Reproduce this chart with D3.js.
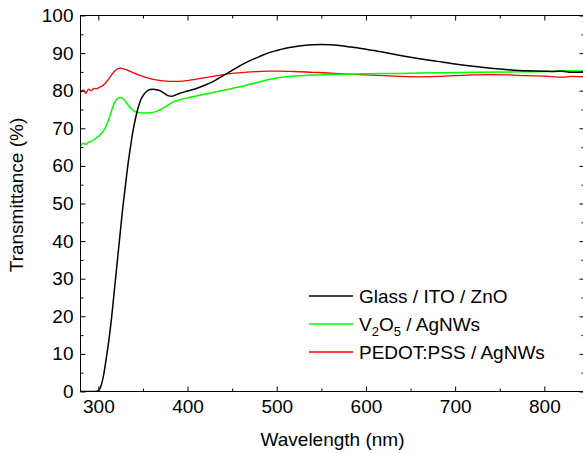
<!DOCTYPE html>
<html>
<head>
<meta charset="utf-8">
<script src="https://cdn.jsdelivr.net/npm/d3@7"></script>
<style>
	body { margin: 0; background: #fff; }
	svg { display: block; font-family: "Liberation Sans", Arial, sans-serif; }
</style>
</head>
<body>
<div id="chart"></div>
<script>
// Glass / ITO / ZnO
const glassWl = [280, 290, 296, 300, 303, 306, 309, 312, 315, 318, 321, 324, 327, 330, 333, 336, 339, 342, 345, 348, 351, 354, 358, 362, 366, 370, 374, 378, 382, 386, 390, 400, 410, 420, 430, 440, 450, 460, 470, 480, 490, 500, 510, 520, 530, 540, 550, 560, 570, 580, 590, 600, 620, 640, 660, 680, 700, 720, 740, 760, 780, 800, 810, 820, 830, 845];
const glassT = [0, 0, 0, 0.2, 1.5, 4.5, 9, 14, 20, 27, 34, 41, 48, 54, 60, 65, 69.5, 73, 75.8, 77.8, 79, 79.8, 80.3, 80.4, 80.2, 79.9, 79.3, 78.7, 78.5, 78.8, 79.2, 79.9, 80.6, 81.5, 82.6, 84, 85.4, 86.8, 88, 89, 90, 90.7, 91.3, 91.7, 92, 92.2, 92.3, 92.2, 92, 91.7, 91.4, 91, 90.2, 89.3, 88.5, 87.8, 87.1, 86.5, 86, 85.6, 85.3, 85.2, 85.1, 85.2, 84.9, 85];

// V2O5 / AgNWs
const vWl = [280, 283, 286, 289, 292, 295, 298, 301, 304, 307, 310, 313, 316, 319, 322, 325, 328, 331, 334, 337, 340, 345, 350, 355, 360, 365, 370, 375, 380, 385, 390, 400, 410, 420, 430, 440, 450, 460, 470, 480, 490, 500, 520, 540, 560, 580, 600, 640, 680, 720, 760, 800, 820, 845];
const vT = [65.3, 66, 65.7, 66.3, 66.5, 67, 67.5, 68, 68.8, 69.8, 71.3, 73.3, 75.5, 77.2, 78, 78.2, 77.8, 77, 76, 75.2, 74.6, 74.2, 74.1, 74.1, 74.2, 74.5, 75, 75.7, 76.5, 77.1, 77.5, 78.1, 78.6, 79.1, 79.6, 80.1, 80.6, 81.1, 81.7, 82.3, 82.9, 83.4, 83.9, 84.2, 84.3, 84.4, 84.5, 84.6, 84.8, 84.9, 85, 85.1, 85.3, 85.2];

// PEDOT:PSS / AgNWs
const pWl = [280, 283, 286, 289, 292, 295, 298, 301, 304, 307, 310, 313, 316, 319, 322, 325, 328, 331, 335, 340, 345, 350, 355, 360, 370, 380, 390, 400, 410, 420, 430, 440, 450, 460, 470, 480, 490, 500, 520, 540, 560, 580, 600, 620, 640, 660, 680, 700, 720, 740, 760, 780, 800, 820, 830, 845];
const pT = [79.5, 80.2, 79.3, 80.4, 80, 80.6, 80.5, 80.9, 81.2, 81.8, 82.6, 83.6, 84.6, 85.4, 85.9, 86, 85.8, 85.6, 85.2, 84.7, 84.2, 83.8, 83.4, 83.1, 82.7, 82.5, 82.5, 82.7, 83.1, 83.5, 83.9, 84.3, 84.6, 84.8, 85, 85.1, 85.2, 85.2, 85.1, 84.9, 84.7, 84.4, 84.2, 84, 83.8, 83.7, 83.8, 84, 84.2, 84.3, 84.2, 84, 83.9, 83.6, 83.8, 83.7];

const seriesNames = ["Glass / ITO / ZnO", "V2O5 / AgNWs", "PEDOT:PSS / AgNWs"];
const seriesColors = ["#000000", "#00ff00", "#ff0000"];
const xTicks = [300, 400, 500, 600, 700, 800];
const yTicks = [0, 10, 20, 30, 40, 50, 60, 70, 80, 90, 100];

const W = 583;
const H = 453;
const plotLeft = 80.5;
const plotRight = 584.5;
const plotTop = 15.5;
const plotBottom = 391.5;
const fontSize = 19;

const x = d3.scaleLinear().domain([280, 845]).range([plotLeft, plotRight]);
const y = d3.scaleLinear().domain([0, 100]).range([plotBottom, plotTop]);

const svg = d3.select("#chart").append("svg").attr("width", W).attr("height", H);

const series = [
	{ wl: glassWl, t: glassT },
	{ wl: vWl, t: vT },
	{ wl: pWl, t: pT },
].map((s, i) => ({
	name: seriesNames[i],
	color: seriesColors[i],
	points: s.wl.map((w, j) => ({ w: w, t: s.t[j] })),
}));

const line = d3
	.line()
	.x((d) => x(d.w))
	.y((d) => y(d.t))
	.curve(d3.curveMonotoneX);

const plot = svg.append("g");
plot.append("clipPath").attr("id", "clip").append("rect")
	.attr("x", plotLeft).attr("y", plotTop)
	.attr("width", plotRight - plotLeft).attr("height", plotBottom - plotTop);

// red first so the black curve sits on top like the original
[2, 1, 0].forEach((i) => {
	plot.append("path")
		.datum(series[i].points)
		.attr("clip-path", "url(#clip)")
		.attr("fill", "none")
		.attr("stroke", series[i].color)
		.attr("stroke-width", i === 2 ? 1.3 : 1.5)
		.attr("d", line);
});

// axes: major + minor ticks pointing inwards on all four sides
const minorX = d3.range(300, 846, 50).filter((v) => v % 100 !== 0);
const minorY = d3.range(5, 100, 10);

function styleAxis(g) {
	g.select(".domain").remove();
	g.selectAll("line").attr("stroke", "#000").attr("stroke-width", 1);
	g.selectAll("text").attr("font-size", fontSize).attr("fill", "#000").attr("font-family", "Liberation Sans, Arial, sans-serif");
}

svg.append("g").attr("transform", `translate(0,${plotBottom})`)
	.call(d3.axisBottom(x).tickValues(xTicks).tickSize(-5).tickPadding(8).tickFormat(d3.format("d")))
	.call(styleAxis);
svg.append("g").attr("transform", `translate(0,${plotBottom})`)
	.call(d3.axisBottom(x).tickValues(minorX).tickSize(-3).tickFormat(""))
	.call(styleAxis);
svg.append("g").attr("transform", `translate(0,${plotTop})`)
	.call(d3.axisTop(x).tickValues(xTicks).tickSize(-5).tickFormat(""))
	.call(styleAxis);
svg.append("g").attr("transform", `translate(0,${plotTop})`)
	.call(d3.axisTop(x).tickValues(minorX).tickSize(-3).tickFormat(""))
	.call(styleAxis);

svg.append("g").attr("transform", `translate(${plotLeft},0)`)
	.call(d3.axisLeft(y).tickValues(yTicks).tickSize(-5).tickPadding(7).tickFormat(d3.format("d")))
	.call(styleAxis);
svg.append("g").attr("transform", `translate(${plotLeft},0)`)
	.call(d3.axisLeft(y).tickValues(minorY).tickSize(-3).tickFormat(""))
	.call(styleAxis);
svg.append("g").attr("transform", `translate(${plotRight},0)`)
	.call(d3.axisRight(y).tickValues(yTicks).tickSize(-5).tickFormat(""))
	.call(styleAxis);
svg.append("g").attr("transform", `translate(${plotRight},0)`)
	.call(d3.axisRight(y).tickValues(minorY).tickSize(-3).tickFormat(""))
	.call(styleAxis);

// frame
svg.append("rect")
	.attr("x", plotLeft).attr("y", plotTop)
	.attr("width", plotRight - plotLeft).attr("height", plotBottom - plotTop)
	.attr("fill", "none").attr("stroke", "#000").attr("stroke-width", 1);

// axis titles
svg.append("text")
	.attr("x", (plotLeft + plotRight) / 2)
	.attr("y", 446)
	.attr("text-anchor", "middle")
	.attr("font-size", fontSize)
	.text("Wavelength (nm)");
svg.append("text")
	.attr("transform", "translate(23,195) rotate(-90)")
	.attr("text-anchor", "middle")
	.attr("font-size", fontSize)
	.text("Transmittance (%)");

// legend
const legend = svg.append("g").attr("transform", "translate(309,296)");
const rowGap = 28;
series.forEach((s, i) => {
	const row = legend.append("g").attr("transform", `translate(0,${i * rowGap})`);
	row.append("line")
		.attr("x1", 0).attr("x2", 44).attr("y1", 0).attr("y2", 0)
		.attr("stroke", s.color).attr("stroke-width", 1.5);
	const label = row.append("text").attr("x", 50).attr("y", 7).attr("font-size", fontSize);
	if (i === 1) {
		label.append("tspan").text("V");
		label.append("tspan").attr("font-size", 13).attr("dy", 5).text("2");
		label.append("tspan").attr("dy", -5).text("O");
		label.append("tspan").attr("font-size", 13).attr("dy", 5).text("5");
		label.append("tspan").attr("dy", -5).text(" / AgNWs");
	} else {
		label.text(s.name);
	}
});
</script>
</body>
</html>
